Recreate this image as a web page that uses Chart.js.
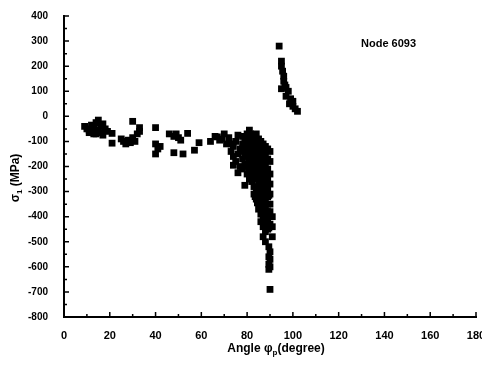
<!DOCTYPE html>
<html>
<head>
<meta charset="utf-8">
<script src="https://cdn.jsdelivr.net/npm/chart.js@4.4.1/dist/chart.umd.min.js"></script>
<style>
  html, body { margin: 0; padding: 0; background: #fff; }
  #wrap { width: 482px; height: 367px; }
</style>
</head>
<body>
<div id="wrap"><canvas id="chart"></canvas></div>
<script>
// stress sigma_1 (MPa) against principal angle phi_p (degree), node 6093
const seriesLabel = 'Node 6093';

const angles = [
    // left band, 9 - 71 degrees
    9, 10, 11, 11, 12, 12, 13, 13, 14, 14, 15, 15, 16, 16, 17, 17, 18, 19, 21, 21,
    25, 26, 27, 28, 29, 30, 30, 31, 32, 33, 33,
    40, 40, 41, 42, 40, 46, 48, 49, 50, 51, 48, 52,
    54, 57, 59, 64, 66, 67, 68, 69, 70, 71,
    // left lobe of main group
    72, 73, 73, 74, 74, 75, 75, 76, 76, 77, 77, 78, 74, 76,
    // main group, 78 - 91 degrees
    78, 78, 78, 78,
    79, 79, 79, 79, 79,
    80, 80, 80, 80, 80, 80,
    81, 81, 81, 81, 81, 81, 81,
    82, 82, 82, 82, 82, 82, 82,
    83, 83, 83, 83, 83, 83, 83, 83,
    84, 84, 84, 84, 84, 84, 84, 84, 84,
    85, 85, 85, 85, 85, 85, 85, 85, 85, 85,
    86, 86, 86, 86, 86, 86, 86, 86, 86, 86, 86,
    87, 87, 87, 87, 87, 87, 87, 87, 87, 87, 87, 87,
    88, 88, 88, 88, 88, 88, 88, 88, 88, 88, 88, 88,
    89, 89, 89, 89, 89, 89, 89, 89, 89, 89,
    90, 90, 90, 90, 90, 90, 90, 90, 90, 90, 90, 90,
    89.5, 89.5, 89.5, 89.5, 91, 91, 91,
    // in-between points of the main group
    83.5, 84.5, 85.5, 86.5, 87.5, 88.5, 89.5,
    83.5, 84.5, 85.5, 86.5, 87.5, 88.5, 89.5,
    84.5, 85.5, 86.5, 87.5, 88.5, 86.5, 87.5, 88.5, 89.5,
    79.5, 80.5, 81.5, 82.5, 80.5, 81.5, 82.5,
    // upper branch, 93 - 102 degrees
    94, 95, 95, 95.5, 96, 96, 97, 95, 98, 97, 99, 100, 100, 101, 102, 96.5, 98.5
];

const sigma1 = [
    -40, -50, -55, -65, -60, -35, -45, -70, -25, -70, -55, -15, -40, -65, -30, -75, -50, -60, -68, -107,
    -90, -100, -110, -95, -105, -85, -20, -100, -70, -60, -45,
    -45, -110, -130, -120, -150, -70, -80, -70, -85, -95, -145, -150,
    -68, -135, -105, -100, -80, -82, -95, -90, -70, -110,
    -85, -110, -140, -160, -120, -100, -180, -75, -150, -200, -130, -210, -195, -225,
    -80, -110, -140, -170,
    -95, -125, -155, -190, -275,
    -70, -100, -130, -160, -200, -230,
    -55, -90, -120, -150, -180, -210, -250,
    -75, -105, -135, -165, -195, -225, -260,
    -85, -115, -145, -175, -205, -240, -280, -310,
    -70, -100, -130, -160, -190, -220, -250, -290, -330,
    -90, -120, -150, -180, -210, -240, -270, -300, -340, -370,
    -100, -130, -160, -190, -230, -260, -290, -320, -350, -390, -420,
    -110, -140, -170, -200, -240, -280, -310, -340, -370, -400, -440, -480,
    -120, -150, -190, -220, -260, -300, -330, -360, -390, -420, -460, -500,
    -130, -170, -210, -250, -290, -320, -350, -380, -410, -450,
    -140, -180, -230, -270, -310, -350, -380, -430, -540, -570, -600, -690,
    -520, -560, -590, -610, -400, -440, -480,
    -190, -215, -235, -255, -275, -295, -315,
    -320, -345, -365, -385, -405, -425, -445,
    -150, -170, -205, -225, -245, -350, -365, -380, -395,
    -110, -145, -165, -185, -85, -70, -95,
    280, 220, 200, 180, 160, 140, 115, 110, 100, 80, 70, 60, 40, 30, 20, 125, 50
];

const xTicksMajor = [0, 20, 40, 60, 80, 100, 120, 140, 160, 180];
const xTicksMinor = [10, 30, 50, 70, 90, 110, 130, 150, 170];
const yTicksMajor = [400, 300, 200, 100, 0, -100, -200, -300, -400, -500, -600, -700, -800];
const yTicksMinor = [350, 250, 150, 50, -50, -150, -250, -350, -450, -550, -650, -750];

const points = angles.map((a, i) => ({ x: a, y: sigma1[i] }));

const fontFamily = '"Liberation Sans", Arial, sans-serif';

// inward ticks, axis titles with subscripts and the node label
const decorations = {
    id: 'decorations',
    afterDraw(chart) {
        const ctx = chart.ctx;
        const xs = chart.scales.x;
        const ys = chart.scales.y;
        const area = chart.chartArea;
        ctx.save();
        ctx.strokeStyle = '#000';
        ctx.lineWidth = 1.5;
        ctx.beginPath();
        xTicksMajor.forEach(v => {
            const px = xs.getPixelForValue(v);
            ctx.moveTo(px, area.bottom); ctx.lineTo(px, area.bottom - 5);
        });
        xTicksMinor.forEach(v => {
            const px = xs.getPixelForValue(v);
            ctx.moveTo(px, area.bottom); ctx.lineTo(px, area.bottom - 3);
        });
        yTicksMajor.forEach(v => {
            const py = ys.getPixelForValue(v);
            ctx.moveTo(area.left, py); ctx.lineTo(area.left + 5, py);
        });
        yTicksMinor.forEach(v => {
            const py = ys.getPixelForValue(v);
            ctx.moveTo(area.left, py); ctx.lineTo(area.left + 3, py);
        });
        ctx.stroke();

        ctx.fillStyle = '#000';
        ctx.textBaseline = 'middle';
        const big = 'bold 12px ' + fontFamily;
        const small = 'bold 8px ' + fontFamily;

        // x title: Angle φp(degree)
        const a1 = 'Angle \u03c6';
        const a2 = '(degree)';
        ctx.font = small;
        const wSub = ctx.measureText('p').width;
        ctx.font = big;
        const w1 = ctx.measureText(a1).width;
        const w2 = ctx.measureText(a2).width;
        const sx = 276 - (w1 + wSub + w2) / 2;
        const ty = 349;
        ctx.textAlign = 'left';
        ctx.fillText(a1, sx, ty);
        ctx.font = small;
        ctx.fillText('p', sx + w1, ty + 4);
        ctx.font = big;
        ctx.fillText(a2, sx + w1 + wSub, ty);

        // y title: σ1 (MPa), rotated
        ctx.save();
        ctx.translate(16, 178);
        ctx.rotate(-Math.PI / 2);
        const b1 = '\u03c3';
        const b2 = ' (MPa)';
        ctx.font = small;
        const wS1 = ctx.measureText('1').width;
        ctx.font = big;
        const wb1 = ctx.measureText(b1).width;
        const wb2 = ctx.measureText(b2).width;
        const bx = -(wb1 + wS1 + wb2) / 2;
        ctx.fillText(b1, bx, 0);
        ctx.font = small;
        ctx.fillText('1', bx + wb1, 4);
        ctx.font = big;
        ctx.fillText(b2, bx + wb1 + wS1, 0);
        ctx.restore();

        // node label
        ctx.font = 'bold 11px ' + fontFamily;
        ctx.textAlign = 'left';
        ctx.fillText(seriesLabel, 361, 44);
        ctx.restore();
    }
};

new Chart(document.getElementById('chart'), {
    type: 'scatter',
    data: {
        datasets: [{
            label: seriesLabel,
            data: points,
            pointStyle: 'rect',
            pointRadius: 4.8,
            pointBorderWidth: 0,
            backgroundColor: '#000',
            borderColor: '#000'
        }]
    },
    options: {
        responsive: true,
        maintainAspectRatio: false,
        animation: false,
        layout: { padding: { left: 0, right: 6, top: 16, bottom: 0 } },
        plugins: {
            legend: { display: false },
            tooltip: { enabled: false }
        },
        scales: {
            x: {
                type: 'linear',
                min: 0,
                max: 180,
                grid: { display: false },
                border: { display: true, color: '#000', width: 2 },
                ticks: {
                    stepSize: 20,
                    padding: 4,
                    color: '#000',
                    font: { family: fontFamily, size: 11, weight: 'bold' },
                    maxRotation: 0
                },
                afterFit(scale) {
                    scale.height = 50;
                    scale.paddingLeft = 0;
                    scale.paddingRight = 0;
                }
            },
            y: {
                type: 'linear',
                min: -800,
                max: 400,
                grid: { display: false },
                border: { display: true, color: '#000', width: 2 },
                ticks: {
                    stepSize: 100,
                    padding: 8,
                    color: '#000',
                    font: { family: fontFamily, size: 10, weight: 'bold' }
                },
                afterFit(scale) {
                    scale.width = 64;
                    scale.paddingTop = 0;
                    scale.paddingBottom = 0;
                }
            }
        }
    },
    plugins: [decorations]
});
</script>
</body>
</html>
